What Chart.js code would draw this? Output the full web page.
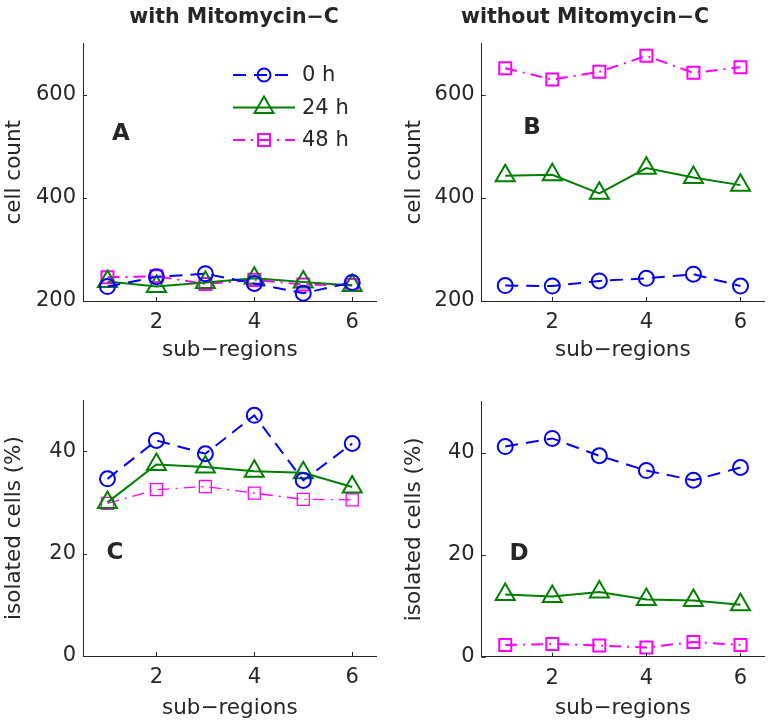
<!DOCTYPE html>
<html><head><meta charset="utf-8">
<script src="https://cdn.jsdelivr.net/npm/chart.js@4.4.1/dist/chart.umd.min.js"></script>
<style>
html,body{margin:0;padding:0;background:#fff;}
body{width:777px;height:723px;position:relative;overflow:hidden;font-family:"DejaVu Sans",sans-serif;color:#262626;}
canvas{position:absolute;}
.title{position:absolute;font-weight:bold;font-size:20.5px;transform:translate(-50%,-50%);white-space:nowrap;}
.letter{position:absolute;font-weight:bold;font-size:23px;transform:translate(-50%,-50%);}
</style></head><body>
<canvas id="cA" width="390" height="370" style="left:0;top:0"></canvas>
<canvas id="cB" width="377" height="370" style="left:400px;top:0"></canvas>
<canvas id="cC" width="390" height="353" style="left:0;top:370px"></canvas>
<canvas id="cD" width="377" height="353" style="left:400px;top:370px"></canvas>
<div class="title" style="left:234px;top:16px">with Mitomycin−C</div>
<div class="title" style="left:585px;top:16px">without Mitomycin−C</div>
<div class="letter" style="left:121px;top:132px">A</div>
<div class="letter" style="left:532px;top:126px">B</div>
<div class="letter" style="left:115px;top:551px">C</div>
<div class="letter" style="left:519px;top:552px">D</div>
<script>
// ---- data ----
const regions = [1, 2, 3, 4, 5, 6];
const seriesNames = ['0 h', '24 h', '48 h'];
// A: with Mitomycin-C, cell count
const cellWith0h  = [228, 247, 253, 234, 215, 236];
const cellWith24h = [238, 228, 236, 244, 237, 230];
const cellWith48h = [246, 248, 233, 241, 232, 231];
// B: without Mitomycin-C, cell count
const cellWithout0h  = [230, 229, 239, 244, 252, 229];
const cellWithout24h = [443, 445, 409, 458, 440, 425];
const cellWithout48h = [652, 630, 645, 676, 643, 654];
// C: with Mitomycin-C, isolated cells (%)
const isoWith0h  = [34.6, 42.1, 39.5, 47.0, 34.3, 41.5];
const isoWith24h = [30.0, 37.4, 36.9, 36.1, 35.8, 33.0];
const isoWith48h = [29.8, 32.5, 33.1, 31.8, 30.6, 30.5];
// D: without Mitomycin-C, isolated cells (%)
const isoWithout0h  = [41.2, 42.8, 39.4, 36.5, 34.6, 37.1];
const isoWithout24h = [12.2, 11.8, 12.7, 11.2, 11.0, 10.2];
const isoWithout48h = [2.3, 2.5, 2.2, 1.8, 2.9, 2.3];
// ticks
const xTicks = [2, 4, 6];
const countTicks = [200, 400, 600];
const pctTicks = [0, 20, 40];

const TXT = '#262626';
const FONT = 'DejaVu Sans';

function styles(i, thinMagenta) {
  return [
    {borderColor:'#0000ff', borderDash:[13,8], borderWidth:2, pointStyle:'circle', pointRadius:7.5, pointBorderWidth:2},
    {borderColor:'#008000', borderDash:[], borderWidth:2, pointStyle:'triangle', pointRadius:11, pointBorderWidth:2},
    {borderColor:'#ff00ff', borderDash:[12,6,2,6], borderWidth: thinMagenta ? 1.3 : 2, pointStyle:'rect', pointRadius:8.5, pointBorderWidth: thinMagenta ? 1.3 : 2}
  ][i];
}

function makeDatasets(arrs, thinMagenta) {
  return arrs.map((vals, i) => {
    const s = styles(i, thinMagenta);
    return Object.assign({
      label: seriesNames[i],
      data: regions.map((r, k) => ({x: r, y: vals[k]})),
      backgroundColor: 'rgba(0,0,0,0)',
      pointBackgroundColor: 'rgba(0,0,0,0)',
      pointBorderColor: s.borderColor,
      tension: 0,
      clip: false,
      fill: false
    }, s);
  });
}

function drawMarker(ctx, style, r, x, y) {
  ctx.beginPath();
  if (style === 'circle') {
    ctx.arc(x, y, r, 0, Math.PI * 2);
  } else if (style === 'triangle') {
    for (let k = 0; k < 3; k++) {
      const a = k * 2 * Math.PI / 3;
      const px = x + Math.sin(a) * r, py = y - Math.cos(a) * r;
      if (k === 0) ctx.moveTo(px, py); else ctx.lineTo(px, py);
    }
    ctx.closePath();
  } else {
    const s = Math.SQRT1_2 * r;
    ctx.rect(x - s, y - s, 2 * s, 2 * s);
  }
  ctx.stroke();
}

const inwardTicks = {
  id: 'inwardTicks',
  afterDraw(chart) {
    const ctx = chart.ctx, a = chart.chartArea, xs = chart.scales.x, ys = chart.scales.y;
    ctx.save();
    ctx.strokeStyle = TXT; ctx.lineWidth = 1; ctx.setLineDash([]);
    ctx.beginPath();
    xs.ticks.forEach(t => { const p = Math.round(xs.getPixelForValue(t.value)) + 0.5; ctx.moveTo(p, a.bottom); ctx.lineTo(p, a.bottom - 4); });
    ys.ticks.forEach(t => { const p = Math.round(ys.getPixelForValue(t.value)) + 0.5; ctx.moveTo(a.left, p); ctx.lineTo(a.left + 4, p); });
    ctx.stroke();
    ctx.restore();
  }
};

const lineLegend = {
  id: 'lineLegend',
  afterDraw(chart, args, opts) {
    if (!opts || !opts.show) return;
    const ctx = chart.ctx;
    chart.data.datasets.forEach((ds, i) => {
      const yy = opts.y0 + i * opts.dy;
      ctx.save();
      ctx.strokeStyle = ds.borderColor; ctx.lineWidth = ds.borderWidth;
      ctx.setLineDash(ds.borderDash || []);
      ctx.beginPath(); ctx.moveTo(opts.x0, yy); ctx.lineTo(opts.x1, yy); ctx.stroke();
      ctx.setLineDash([]);
      ctx.lineWidth = ds.pointBorderWidth;
      drawMarker(ctx, ds.pointStyle, ds.pointStyle === 'circle' ? 6.5 : ds.pointRadius, (opts.x0 + opts.x1) / 2, yy);
      ctx.fillStyle = TXT; ctx.font = '21px "' + FONT + '"';
      ctx.textBaseline = 'middle'; ctx.textAlign = 'left';
      ctx.fillText(ds.label, opts.x1 + 7, yy + 1);
      ctx.restore();
    });
  }
};

function makePanel(id, arrs, yMin, yMax, yTicks, yTitle, L, legend, thinMagenta) {
  new Chart(document.getElementById(id), {
    type: 'line',
    data: { datasets: makeDatasets(arrs, thinMagenta) },
    options: {
      responsive: false, animation: false, events: [],
      layout: { padding: { top: L.padTop, right: L.padRight, left: 0, bottom: 0 } },
      plugins: { legend: { display: false }, tooltip: { enabled: false }, lineLegend: legend || { show: false } },
      scales: {
        x: {
          type: 'linear', min: 0.5, max: 6.5,
          afterBuildTicks: s => { s.ticks = xTicks.map(v => ({ value: v })); },
          afterFit: s => { s.height = L.xHeight; s.paddingLeft = 0; s.paddingRight = 0; s.paddingTop = 0; s.paddingBottom = 0; },
          grid: { display: true, drawOnChartArea: false, drawTicks: false, color: 'rgba(0,0,0,0)' },
          border: { display: true, color: TXT, width: 1 },
          ticks: { color: TXT, font: { family: FONT, size: 21 }, padding: 9, maxRotation: 0, autoSkip: false },
          title: { display: true, text: 'sub−regions', color: TXT, font: { family: FONT, size: 21.5 }, padding: { top: 0, bottom: L.xTitlePad } }
        },
        y: {
          type: 'linear', min: yMin, max: yMax,
          afterBuildTicks: s => { s.ticks = yTicks.map(v => ({ value: v })); },
          afterFit: s => { s.width = L.yWidth; s.paddingLeft = 0; s.paddingRight = 0; s.paddingTop = 0; s.paddingBottom = 0; },
          grid: { display: true, drawOnChartArea: false, drawTicks: false, color: 'rgba(0,0,0,0)' },
          border: { display: true, color: TXT, width: 1 },
          ticks: { color: TXT, font: { family: FONT, size: 21 }, padding: 7, autoSkip: false },
          title: { display: true, text: yTitle, color: TXT, font: { family: FONT, size: 21.5 }, padding: { top: 2, bottom: 0 } }
        }
      }
    },
    plugins: [inwardTicks, lineLegend]
  });
}

makePanel('cA', [cellWith0h, cellWith24h, cellWith48h], 200, 700, countTicks, 'cell count',
  { padTop: 43.5, padRight: 13.3, yWidth: 83, xHeight: 69, xTitlePad: 7 },
  { show: true, x0: 233, x1: 295, y0: 75, dy: 32.5 }, false);
makePanel('cB', [cellWithout0h, cellWithout24h, cellWithout48h], 200, 700, countTicks, 'cell count',
  { padTop: 43.5, padRight: 2.2, yWidth: 81.7, xHeight: 69, xTitlePad: 7 }, null, false);
makePanel('cC', [isoWith0h, isoWith24h, isoWith48h], 0, 50, pctTicks, 'isolated cells (%)',
  { padTop: 30, padRight: 13.3, yWidth: 83, xHeight: 67, xTitlePad: 2 }, null, true);
makePanel('cD', [isoWithout0h, isoWithout24h, isoWithout48h], 0, 50, pctTicks, 'isolated cells (%)',
  { padTop: 31.7, padRight: 2, yWidth: 81.7, xHeight: 66.3, xTitlePad: 2 }, null, false);
</script>
</body></html>
